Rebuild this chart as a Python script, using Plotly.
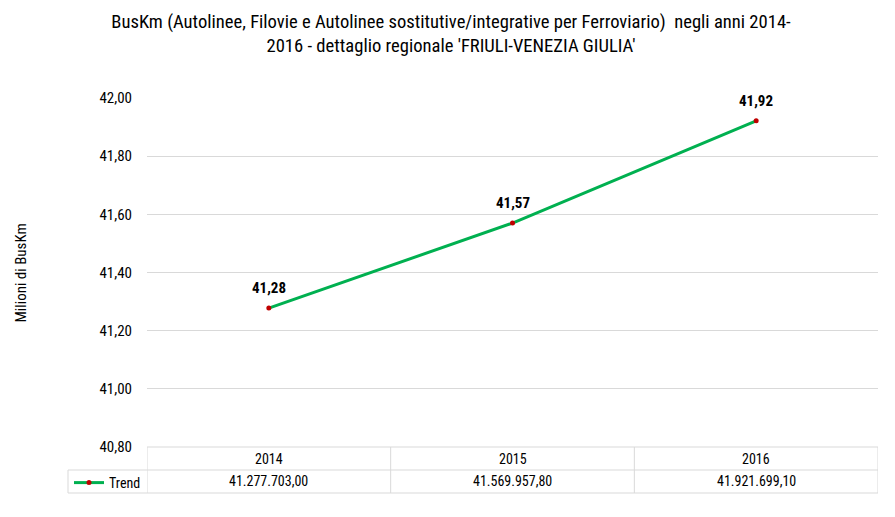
import plotly.graph_objects as go

years = ["2014", "2015", "2016"]
buskm = [41277703.00, 41569957.80, 41921699.10]
buskm_mil = [v / 1e6 for v in buskm]
cell_labels = ["41.277.703,00", "41.569.957,80", "41.921.699,10"]
point_labels = ["41,28", "41,57", "41,92"]
series_name = "Trend"

# page body has an 8px margin, so the figure is drawn 8px in from the window corner
OFF = 8
W, H = 895 - OFF, 517 - OFF
ml, mr, mt = 147 - OFF, 17, 98 - OFF
mb = H - (447 - OFF)
plot_w = W - ml - mr
plot_h = H - mt - mb
row_h = 23 / plot_h
font = "Roboto Condensed, Liberation Sans Narrow, Arial Narrow, Roboto, sans-serif"
grid = "#d9d9d9"

fig = go.Figure()
fig.add_trace(go.Scatter(
    x=years, y=buskm_mil, mode="lines+markers", name=series_name,
    line=dict(color="#00b050", width=3),
    marker=dict(color="#c00000", size=5),
))

# category positions by index (string years would be read as numbers)
for i, (v, t) in enumerate(zip(buskm_mil, point_labels)):
    fig.add_annotation(x=i, y=v, text=f"<b>{t}</b>", showarrow=False,
                       yshift=20, font=dict(size=15, color="#000"))

# data table under the plot
legend_left = (68 - OFF - ml) / plot_w
fig.add_shape(type="line", xref="x", yref="paper", x0=-0.5, x1=2.5, y0=0, y1=0,
              line=dict(color=grid, width=1))
for k in (1, 2):
    y = -k * row_h
    fig.add_shape(type="line", xref="paper", yref="paper", x0=legend_left, x1=1, y0=y, y1=y,
                  line=dict(color=grid, width=1))
for xb in [-0.5, 0.5, 1.5, 2.5]:
    fig.add_shape(type="line", xref="x", yref="paper", x0=xb, x1=xb, y0=0, y1=-2 * row_h,
                  line=dict(color=grid, width=1))
fig.add_shape(type="line", xref="paper", yref="paper", x0=legend_left, x1=legend_left,
              y0=-row_h, y1=-2 * row_h, line=dict(color=grid, width=1))

for i, (yr, lab) in enumerate(zip(years, cell_labels)):
    fig.add_annotation(x=i, y=-0.5 * row_h, yref="paper", text=yr, showarrow=False,
                       xanchor="center", yanchor="middle", font=dict(size=14, color="#000"))
    fig.add_annotation(x=i, y=-1.5 * row_h, yref="paper", text=lab, showarrow=False,
                       xanchor="center", yanchor="middle", font=dict(size=14, color="#000"))

# y axis title
fig.add_annotation(x=(20 - OFF - ml) / plot_w, y=0.5, xref="paper", yref="paper",
                   text="Milioni di BusKm", textangle=-90, showarrow=False,
                   xanchor="center", yanchor="middle", font=dict(size=15, color="#000"))

fig.update_layout(
    width=W, height=H,
    margin=dict(l=ml, r=mr, t=mt, b=mb, autoexpand=False),
    paper_bgcolor="white", plot_bgcolor="white",
    font=dict(family=font, size=14, color="#000"),
    title=dict(
        text="BusKm (Autolinee, Filovie e Autolinee sostitutive/integrative per Ferroviario)  negli anni 2014-<br>2016 - dettaglio regionale 'FRIULI-VENEZIA GIULIA'",
        x=(451 - OFF) / W, xanchor="center", y=1 - (28 - OFF) / H, yanchor="middle",
        font=dict(size=18.6, color="#000"),
    ),
    separators=",.",
    showlegend=True,
    legend=dict(xref="container", yref="container", x=(69 - OFF) / W, y=1 - (483 - OFF) / H,
                xanchor="left", yanchor="middle", bgcolor="rgba(0,0,0,0)",
                font=dict(size=14), itemwidth=30, tracegroupgap=0),
    xaxis=dict(type="category", range=[-0.5, 2.5], showticklabels=False,
               showgrid=False, zeroline=False, showline=False, ticks=""),
    yaxis=dict(range=[40.8, 42.0], dtick=0.2, tickformat=".2f", showgrid=True,
               gridcolor=grid, zeroline=False, showline=False, ticks="",
               ticklabelstandoff=14, automargin=False, tickfont=dict(size=15)),
)

fig.write_html("out.html")
